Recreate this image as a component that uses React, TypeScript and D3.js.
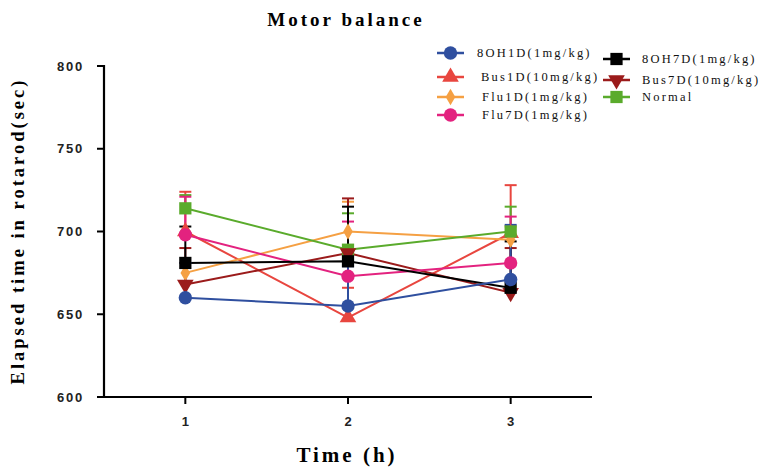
import React from 'react';
import * as d3 from 'd3';

const times = [1, 2, 3];
const seriesNames = ['8OH1D(1mg/kg)', 'Bus1D(10mg/kg)', 'Flu1D(1mg/kg)', 'Flu7D(1mg/kg)', '8OH7D(1mg/kg)', 'Bus7D(10mg/kg)', 'Normal'];
const oh1Mean = [660, 655, 671];
const oh1Err = [21, 24, 33];
const bus1Mean = [700, 648, 699];
const bus1Err = [24, 18, 29];
const flu1Mean = [675, 700, 695];
const flu1Err = [6, 18, 8];
const flu7Mean = [698, 673, 681];
const flu7Err = [23, 33, 28];
const oh7Mean = [681, 682, 666];
const oh7Err = [22, 33, 28];
const bus7Mean = [668, 687, 663];
const bus7Err = [22, 33, 27];
const normalMean = [714, 689, 700];
const normalErr = [8, 22, 15];
const yTicks = [600, 650, 700, 750, 800];

const colors = ['#2f4f9f', '#e8463f', '#f5a043', '#e3227f', '#000000', '#9b1b1b', '#5aab2c'];
const shapes = ['circle', 'triangle', 'diamond', 'circle', 'square', 'triangleDown', 'square'];
const means = [oh1Mean, bus1Mean, flu1Mean, flu7Mean, oh7Mean, bus7Mean, normalMean];
const errs = [oh1Err, bus1Err, flu1Err, flu7Err, oh7Err, bus7Err, normalErr];
// draw order (last on top)
const drawOrder = [1, 2, 6, 5, 3, 4, 0];

const W = 764;
const H = 468;

const x = d3.scaleLinear().domain([0.5, 3.5]).range([104, 592]);
const y = d3.scaleLinear().domain([600, 800]).range([397, 66]);

function markerPath(shape: string) {
  if (shape === 'circle') return d3.symbol(d3.symbolCircle, 140)();
  if (shape === 'square') return d3.symbol(d3.symbolSquare, 150)();
  if (shape === 'diamond') return d3.symbol(d3.symbolDiamond, 80)();
  return d3.symbol(d3.symbolTriangle, 120)();
}

function Marker({ shape, color, cx, cy }: { shape: string; color: string; cx: number; cy: number }) {
  const rot = shape === 'triangleDown' ? 180 : 0;
  return <path d={markerPath(shape) || ''} fill={color} transform={`translate(${cx},${cy}) rotate(${rot})`} />;
}

const legendPos = [
  { lx: 437, ly: 53, tx: 477 },
  { lx: 437, ly: 77, tx: 481 },
  { lx: 437, ly: 97, tx: 482 },
  { lx: 437, ly: 115, tx: 482 },
  { lx: 603, ly: 59, tx: 642 },
  { lx: 603, ly: 80, tx: 642 },
  { lx: 603, ly: 97, tx: 642 },
];

export default function App() {
  const line = d3.line<number>().x((_, i) => x(times[i])).y((d) => y(d));
  return (
    <svg width={W} height={H} style={{ position: 'absolute', left: 0, top: 0, background: '#fff' }}>
      <text x={346} y={26} textAnchor="middle" fontFamily="Liberation Serif" fontWeight="bold" fontSize={19} letterSpacing={3}>
        Motor balance
      </text>

      {/* y axis */}
      <line x1={104} x2={104} y1={65} y2={398} stroke="#000" strokeWidth={2.2} />
      {yTicks.map((t) => (
        <g key={t}>
          <line x1={97} x2={104} y1={y(t)} y2={y(t)} stroke="#000" strokeWidth={2} />
          <text x={84} y={y(t)} dy="0.36em" textAnchor="end" fontFamily="Liberation Sans" fontWeight="bold" fontSize={13} letterSpacing={1.8} fill="#222">
            {t}
          </text>
        </g>
      ))}
      {/* x axis */}
      <line x1={103} x2={592} y1={397} y2={397} stroke="#000" strokeWidth={2.2} />
      {times.map((t) => (
        <g key={t}>
          <line x1={x(t)} x2={x(t)} y1={397} y2={404} stroke="#000" strokeWidth={2} />
          <text x={x(t)} y={426} textAnchor="middle" fontFamily="Liberation Sans" fontWeight="bold" fontSize={13} fill="#222">
            {t}
          </text>
        </g>
      ))}
      <text x={347} y={462} textAnchor="middle" fontFamily="Liberation Serif" fontWeight="bold" fontSize={21} letterSpacing={3}>
        Time (h)
      </text>
      <text transform="translate(24,231) rotate(-90)" textAnchor="middle" fontFamily="Liberation Serif" fontWeight="bold" fontSize={18.5} letterSpacing={3}>
        Elapsed time in rotarod(sec)
      </text>

      {/* series */}
      {drawOrder.map((si) => (
        <g key={si}>
          <path d={line(means[si]) || ''} fill="none" stroke={colors[si]} strokeWidth={2} />
          {means[si].map((m, i) => (
            <g key={i}>
              <line x1={x(times[i])} x2={x(times[i])} y1={y(m)} y2={y(m + errs[si][i])} stroke={colors[si]} strokeWidth={2} />
              <line x1={x(times[i]) - 6} x2={x(times[i]) + 6} y1={y(m + errs[si][i])} y2={y(m + errs[si][i])} stroke={colors[si]} strokeWidth={2} />
            </g>
          ))}
        </g>
      ))}
      {drawOrder.map((si) => (
        <g key={'m' + si}>
          {means[si].map((m, i) => (
            <Marker key={i} shape={shapes[si]} color={colors[si]} cx={x(times[i])} cy={y(m)} />
          ))}
        </g>
      ))}

      {/* legend */}
      {seriesNames.map((n, i) => (
        <g key={n}>
          <line x1={legendPos[i].lx} x2={legendPos[i].lx + 27} y1={legendPos[i].ly} y2={legendPos[i].ly} stroke={colors[i]} strokeWidth={2.5} />
          <Marker shape={shapes[i]} color={colors[i]} cx={legendPos[i].lx + 13.5} cy={legendPos[i].ly} />
          <text x={legendPos[i].tx} y={legendPos[i].ly} dy="0.35em" fontFamily="Liberation Serif" fontSize={12.5} letterSpacing={2.2} fill="#111">
            {n}
          </text>
        </g>
      ))}
    </svg>
  );
}
